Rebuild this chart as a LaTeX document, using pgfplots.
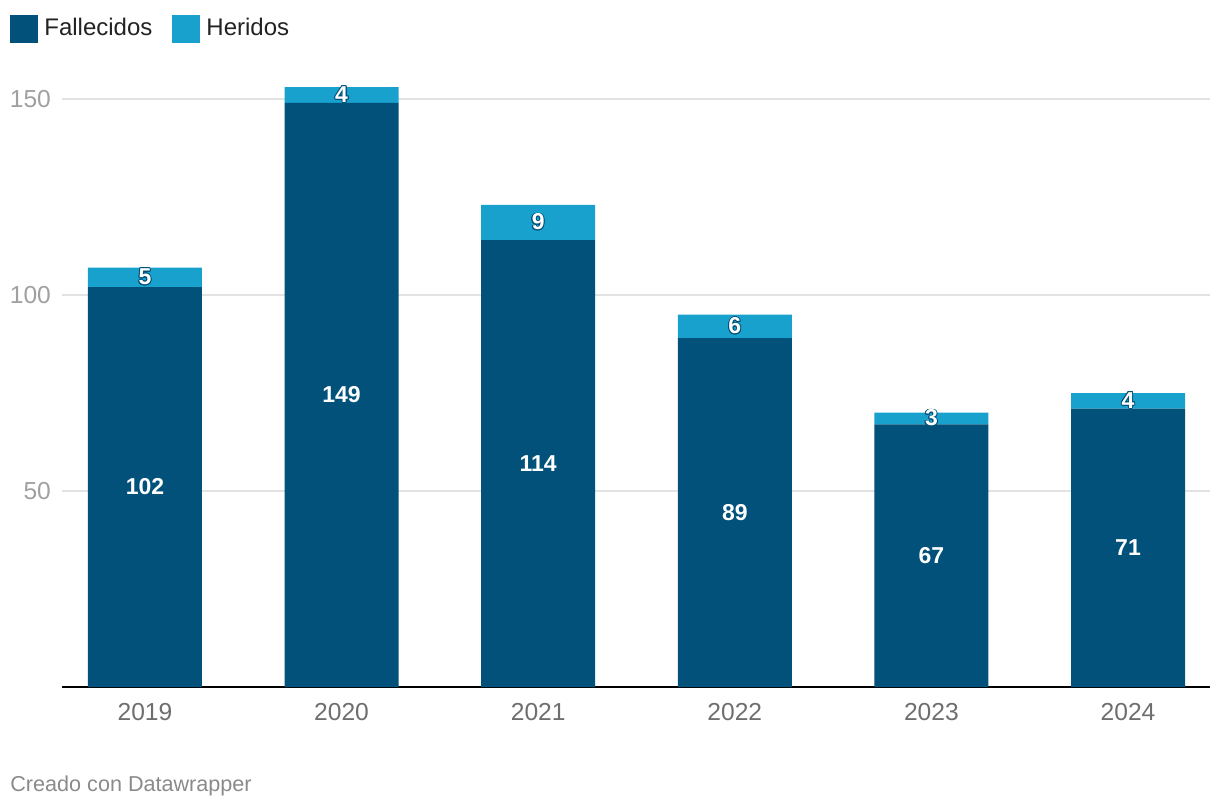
\documentclass[border=0pt]{standalone}
\usepackage{pgfplots}
\pgfplotsset{compat=1.18}
\usepackage{pgfplotstable}
\usepackage{fontspec}
\setmainfont{Liberation Sans}
\usepackage{contour}
\contourlength{0.45pt}
\definecolor{dark}{HTML}{02517A}
\definecolor{light}{HTML}{18A1CD}
\definecolor{gridgray}{HTML}{E3E3E3}
\definecolor{ylab}{HTML}{A0A0A0}
\definecolor{xlab}{HTML}{6E6E6E}
\definecolor{foot}{HTML}{8A8A8A}
\definecolor{legtext}{HTML}{222222}
\pgfplotstableread{
x f h
0 102 5
1 149 4
2 114 9
3 89 6
4 67 3
5 71 4
}\data
\begin{document}
\begin{tikzpicture}
\useasboundingbox (-31pt,-61.5pt) rectangle (579pt,343.5pt);
\begin{axis}[
  at={(0,0)}, anchor=south west,
  scale only axis, width=574pt, height=303.8pt,
  ybar stacked, bar width=57pt,
  xmin=-0.422, xmax=5.417, ymin=0, ymax=155,
  axis lines=left,
  axis line style={-},
  y axis line style={draw=none},
  x axis line style={draw=black, line width=1pt},
  major tick length=0pt,
  ytick={50,100,150},
  ymajorgrids, grid style={draw=gridgray, line width=1pt},
  xtick={0,1,2,3,4,5},
  xticklabels={2019,2020,2021,2022,2023,2024},
  /pgf/number format/assume math mode=true,
  tick label style={font=\fontsize{12.3}{14}\selectfont},
  xticklabel style={text=xlab, yshift=-4.5pt},
  yticklabel style={text=ylab, xshift=-2pt},
  legend image code/.code={\fill[#1] (0pt,-7pt) rectangle (14pt,7pt); \path (15pt,0pt);},
  legend style={draw=none, fill=none, at={(-0.0453,1.1076)}, anchor=north west,
    inner sep=0pt, legend columns=2,
    font=\fontsize{12}{14}\selectfont, text=legtext,
    /tikz/every even column/.append style={column sep=8pt}},
  legend cell align=left,
  point meta=explicit,
  nodes near coords={\contour{dark}{\pgfmathprintnumber{\pgfplotspointmeta}}},
  every node near coord/.append style={anchor=center, text=white,
    font=\fontsize{11.5}{13}\selectfont\bfseries},
]
\addplot[fill=dark, draw=none] table[x=x, y=f, meta=f]{\data};
\addlegendentry{Fallecidos}
\addplot[fill=light, draw=none] table[x=x, y=h, meta=h]{\data};
\addlegendentry{Heridos}
\end{axis}
\node[anchor=west, inner sep=0pt, text=foot, font=\fontsize{10.8}{13}\selectfont] at (-26pt,-49.5pt) {Creado con Datawrapper};
\end{tikzpicture}
\end{document}
